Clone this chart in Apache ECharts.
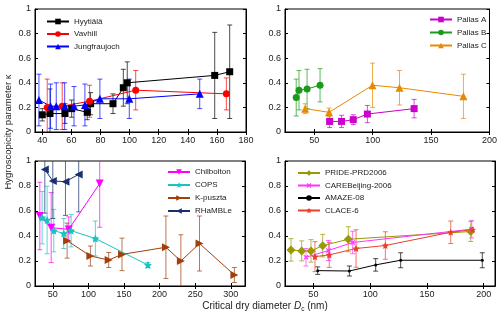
<!DOCTYPE html>
<html>
<head>
<meta charset="utf-8">
<script src="https://cdn.jsdelivr.net/npm/echarts@6/dist/echarts.min.js"></script>
<style>
  html, body { margin: 0; padding: 0; background: #fff; }
  #chart { width: 500px; height: 316px; }
</style>
</head>
<body>
<div id="chart"></div>
<script>
// ---- panel 1 ----
const hyytialaD = [40, 45.3, 55.6, 60.2, 70.9, 73.2, 88.6, 95.7, 98.4, 158.5, 168.8];
const hyytialaK = [0.14, 0.15, 0.15, 0.19, 0.16, 0.23, 0.23, 0.36, 0.40, 0.46, 0.49];
const hyytialaErr = [0.05, 0.2, 0.08, 0.07, 0.06, 0.09, 0.08, 0.15, 0.17, 0.35, 0.38];
const vavhillD = [43.4, 53.7, 72.5, 104.2, 166.5];
const vavhillK = [0.20, 0.21, 0.25, 0.34, 0.31];
const vavhillErr = [0.23, 0.19, 0.13, 0.16, 0.13];
const jungfrauD = [37.7, 45.7, 49.6, 55.4, 61.8, 69.3, 79.6, 99.8, 148.2];
const jungfrauK = [0.26, 0.21, 0.21, 0.21, 0.21, 0.22, 0.27, 0.27, 0.31];
const jungfrauErr = [0.21, 0.18, 0.19, 0.19, 0.16, 0.17, 0.16, 0.16, 0.12];

// ---- panel 2 ----
const pallasAD = [63.2, 73.4, 83.4, 95.5, 135.5];
const pallasAK = [0.086, 0.086, 0.10, 0.146, 0.19];
const pallasAErr = [0.05, 0.05, 0.04, 0.07, 0.075];
const pallasBD = [34.6, 37.0, 43.9, 55.0];
const pallasBK = [0.28, 0.34, 0.35, 0.38];
const pallasBErr = [0.15, 0.16, 0.16, 0.135];
const pallasCD = [42.3, 62.7, 99.9, 123, 177.7];
const pallasCK = [0.19, 0.16, 0.38, 0.36, 0.29];
const pallasCErr = [0.04, 0.035, 0.18, 0.14, 0.18];

// ---- panel 3 ----
const chilboltonD = [31.8, 47.7, 72.4, 115.9];
const chilboltonK = [0.56, 0.467, 0.453, 0.82];
const chilboltonErr = [0.27, 0.28, 0.1, 0.35];
const copsD = [35, 42, 51.4, 65.4, 75.7, 109.8, 183.6];
const copsK = [0.547, 0.528, 0.443, 0.42, 0.443, 0.38, 0.168];
const copsErr = [0.21, 0.27, 0.17, 0.12, 0.13, 0.14, 0.02];
const kpusztaD = [70.1, 102.8, 128.5, 147.2, 208.9, 229.9, 256.1, 305.1];
const kpusztaK = [0.363, 0.24, 0.208, 0.253, 0.31, 0.20, 0.34, 0.088];
const kpusztaErr = [0.14, 0.08, 0.06, 0.13, 0.25, 0.21, 0.22, 0.06];
const rhambleD = [38.8, 50, 67.8, 86.4];
const rhambleK = [0.933, 0.84, 0.835, 0.893];
const rhambleErr = [0.35, 0.3, 0.27, 0.3];

// ---- panel 4 ----
const prideD = [30.3, 39.7, 47.9, 58.2, 80.8, 188.6];
const prideK = [0.289, 0.281, 0.281, 0.323, 0.374, 0.436];
const prideErr = [0.09, 0.08, 0.09, 0.09, 0.1, 0.08];
const careD = [43.5, 63.2, 84.6, 189.5];
const careK = [0.23, 0.284, 0.348, 0.455];
const careErr = [0.07, 0.08, 0.09, 0.07];
const amazeD = [53.8, 81.7, 104.9, 126.9, 198.8];
const amazeK = [0.123, 0.12, 0.169, 0.206, 0.206];
const amazeErr = [0.03, 0.04, 0.05, 0.06, 0.06];
const claceD = [51.4, 64, 87.6, 113.4, 171, 190];
const claceK = [0.235, 0.249, 0.30, 0.324, 0.43, 0.45];
const claceErr = [0.12, 0.1, 0.15, 0.11, 0.09, 0.0];

const xTicks1 = [40, 60, 80, 100, 120, 140, 160, 180];
const xTicks2 = [50, 100, 150, 200];
const xTicks3 = [50, 100, 150, 200, 250, 300];
const xTicks4 = [50, 100, 150, 200];

const FONT = 'Liberation Sans, Arial, Helvetica, sans-serif';
const STAR = 'path://M0,-10 L2.9,-4 L9.5,-3.1 L4.7,1.5 L5.9,8.1 L0,5 L-5.9,8.1 L-4.7,1.5 L-9.5,-3.1 L-2.9,-4 Z';
const CROSS = 'path://M4,0 H6 V4 H10 V6 H6 V10 H4 V6 H0 V4 H4 Z';

const grids = [
  { left: 35, top: 9, width: 211, height: 123 },
  { left: 285, top: 9, width: 210, height: 123 },
  { left: 35, top: 161, width: 210, height: 125 },
  { left: 285, top: 161, width: 210, height: 125 }
];
const xRanges = [[35, 180], [25, 200], [25, 320], [25, 210]];
const xTickSets = [xTicks1, xTicks2, xTicks3, xTicks4];

const xAxes = [], yAxes = [];
grids.forEach((g, i) => {
  xAxes.push({
    gridIndex: i, type: 'value', min: xRanges[i][0], max: xRanges[i][1], position: 'bottom',
    axisLine: { show: true, lineStyle: { color: '#000', width: 1 } },
    axisTick: { show: true, inside: true, length: 3, customValues: xTickSets[i], lineStyle: { color: '#000' } },
    axisLabel: { customValues: xTickSets[i], color: '#222', fontSize: 9, fontFamily: FONT, margin: 4 },
    splitLine: { show: false }
  });
  yAxes.push({
    gridIndex: i, type: 'value', min: 0, max: 1, interval: 0.2,
    axisLine: { show: true, lineStyle: { color: '#000', width: 1 } },
    axisTick: { show: true, inside: true, length: 3, lineStyle: { color: '#000' } },
    axisLabel: { color: '#222', fontSize: 9, fontFamily: FONT, margin: 4 },
    splitLine: { show: false }
  });
});
// top and right axes (ticks only)
grids.forEach((g, i) => {
  xAxes.push({
    gridIndex: i, type: 'value', min: xRanges[i][0], max: xRanges[i][1], position: 'top',
    axisLine: { show: true, lineStyle: { color: '#000', width: 1 } },
    axisTick: { show: true, inside: true, length: 3, customValues: xTickSets[i], lineStyle: { color: '#000' } },
    axisLabel: { show: false }, splitLine: { show: false }
  });
  yAxes.push({
    gridIndex: i, type: 'value', min: 0, max: 1, interval: 0.2, position: 'right',
    axisLine: { show: true, lineStyle: { color: '#000', width: 1 } },
    axisTick: { show: true, inside: true, length: 3, lineStyle: { color: '#000' } },
    axisLabel: { show: false }, splitLine: { show: false }
  });
});

const series = [];
function addSet(panel, name, xs, ys, errs, color, symbol, size, rotate) {
  const errData = xs.map((x, j) => [x, ys[j], errs[j]]);
  series.push({
    name: name + ' err', type: 'custom', xAxisIndex: panel, yAxisIndex: panel,
    data: errData, z: 2, silent: true, encode: { x: 0, y: 1 },
    renderItem: function (params, api) {
      const x = api.value(0), y = api.value(1), e = api.value(2);
      if (!e) return null;
      const hi = Math.min(1, y + e), lo = Math.max(0, y - e);
      const pTop = api.coord([x, hi]), pBot = api.coord([x, lo]);
      const w = 2.5;
      const st = { stroke: color, lineWidth: 1, opacity: 0.7 };
      const kids = [{ type: 'line', shape: { x1: pTop[0], y1: pTop[1], x2: pBot[0], y2: pBot[1] }, style: st }];
      if (y + e <= 1) kids.push({ type: 'line', shape: { x1: pTop[0] - w, y1: pTop[1], x2: pTop[0] + w, y2: pTop[1] }, style: st });
      if (y - e >= 0) kids.push({ type: 'line', shape: { x1: pBot[0] - w, y1: pBot[1], x2: pBot[0] + w, y2: pBot[1] }, style: st });
      return { type: 'group', children: kids };
    }
  });
  series.push({
    name: name, type: 'line', xAxisIndex: panel, yAxisIndex: panel,
    data: xs.map((x, j) => [x, ys[j]]),
    symbol: symbol, symbolSize: size, symbolRotate: rotate || 0,
    itemStyle: { color: color, opacity: 1 },
    lineStyle: { color: color, width: 1 },
    z: 3, animation: false
  });
}

addSet(0, 'Hyytiälä', hyytialaD, hyytialaK, hyytialaErr, '#000000', 'rect', 7);
addSet(0, 'Vavhill', vavhillD, vavhillK, vavhillErr, '#ff0000', 'circle', 7);
addSet(0, 'Jungfraujoch', jungfrauD, jungfrauK, jungfrauErr, '#0000ff', 'triangle', 8);

addSet(1, 'Pallas A', pallasAD, pallasAK, pallasAErr, '#cc00cc', 'rect', 7);
addSet(1, 'Pallas B', pallasBD, pallasBK, pallasBErr, '#1a9a1a', 'circle', 7);
addSet(1, 'Pallas C', pallasCD, pallasCK, pallasCErr, '#e68a00', 'triangle', 8);

addSet(2, 'Chilbolton', chilboltonD, chilboltonK, chilboltonErr, '#ff00ff', 'triangle', 8, 180);
addSet(2, 'COPS', copsD, copsK, copsErr, '#19c3c3', STAR, 8);
addSet(2, 'K-puszta', kpusztaD, kpusztaK, kpusztaErr, '#a0400a', 'triangle', 8, -90);
addSet(2, 'RHaMBLe', rhambleD, rhambleK, rhambleErr, '#1a2f6e', 'triangle', 8, 90);

addSet(3, 'PRIDE-PRD2006', prideD, prideK, prideErr, '#999900', 'diamond', 9);
addSet(3, 'CAREBeijing-2006', careD, careK, careErr, '#ff33ff', CROSS, 6, 45);
addSet(3, 'AMAZE-08', amazeD, amazeK, amazeErr, '#000000', 'circle', 3);
addSet(3, 'CLACE-6', claceD, claceK, claceErr, '#e8402a', STAR, 7);

function legendAt(left, top, gap, names) {
  return {
    left: left, top: top, padding: 0, orient: 'vertical', itemWidth: 22, itemHeight: 7, itemGap: gap,
    textStyle: { fontSize: 8, fontFamily: FONT, color: '#222' },
    data: names, selectedMode: false
  };
}

const chart = echarts.init(document.getElementById('chart'), null, { renderer: 'canvas' });
chart.setOption({
  animation: false,
  backgroundColor: '#fff',
  grid: grids.map(g => Object.assign({ show: true, borderColor: '#000', borderWidth: 1, backgroundColor: 'transparent' }, g)),
  xAxis: xAxes,
  yAxis: yAxes,
  legend: [
    legendAt(46, 17.5, 4.5, ['Hyytiälä', 'Vavhill', 'Jungfraujoch']),
    legendAt(429, 15.5, 5, ['Pallas A', 'Pallas B', 'Pallas C']),
    legendAt(167, 168, 5, ['Chilbolton', 'COPS', 'K-puszta', 'RHaMBLe']),
    legendAt(297, 169, 4.5, ['PRIDE-PRD2006', 'CAREBeijing-2006', 'AMAZE-08', 'CLACE-6'])
  ],
  graphic: [
    {
      type: 'text', x: 8, y: 132, rotation: Math.PI / 2,
      style: { text: 'Hygroscopicity parameter κ', fontSize: 9.5, fontFamily: FONT, fill: '#222', textAlign: 'center', textVerticalAlign: 'middle' }
    },
    {
      type: 'text', x: 265, y: 306,
      style: {
        text: 'Critical dry diameter {i|D}{s|c} (nm)',
        rich: {
          i: { fontStyle: 'italic', fontSize: 10, fontFamily: FONT, fill: '#222' },
          s: { fontSize: 6.5, fontFamily: FONT, fill: '#222', padding: [6, 0, 0, 0] }
        },
        fontSize: 10, fontFamily: FONT, fill: '#222', textAlign: 'center', textVerticalAlign: 'middle'
      }
    }
  ],
  series: series
});
</script>
</body>
</html>
